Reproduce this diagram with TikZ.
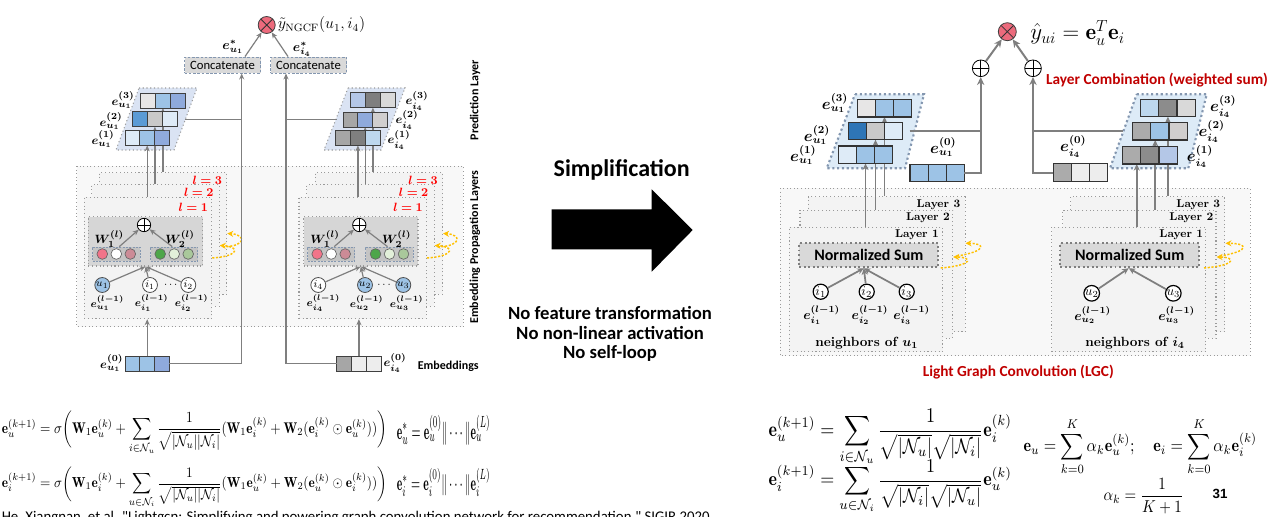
\documentclass[tikz,border=0pt]{standalone}
\usepackage{amsmath,amssymb,bm}
\usepackage{fontspec}
\newfontfamily\carl{Carlito}
\newfontfamily\arl{Liberation Sans}
\usetikzlibrary{arrows.meta,calc}
\pgfdeclarelayer{back}
\pgfdeclarelayer{front}
\pgfsetlayers{back,main,front}

\definecolor{gline}{HTML}{7F7F7F}
\definecolor{xpink}{HTML}{EC6A7C}
\definecolor{cBlueL}{HTML}{9DC3E6}
\definecolor{cBlueM}{HTML}{8FAADC}
\definecolor{cBlueV}{HTML}{DEEBF7}
\definecolor{cBlueD}{HTML}{2E75B6}
\definecolor{cBlueS}{HTML}{5B9BD5}
\definecolor{cLav}{HTML}{B4C7E7}
\definecolor{cBlueP}{HTML}{BDD7EE}
\definecolor{cGrayV}{HTML}{EDEDED}
\definecolor{cGrayE}{HTML}{E7E6E6}
\definecolor{cGrayL}{HTML}{D9D9D9}
\definecolor{cGrayW}{HTML}{D0CECE}
\definecolor{cGrayM}{HTML}{C9C9C9}
\definecolor{cGray}{HTML}{A6A6A6}
\definecolor{cGrayA}{HTML}{ABABAB}
\definecolor{cGrayK}{HTML}{8C8C8C}
\definecolor{cGrayD}{HTML}{7F7F7F}
\definecolor{paraFillL}{HTML}{DAE3F3}
\definecolor{paraFillR}{HTML}{DDEBF7}
\definecolor{paraLine}{HTML}{8497B0}
\definecolor{aggFill}{HTML}{D6D6D6}
\definecolor{grpFill}{HTML}{C4C4C4}
\definecolor{layFill}{HTML}{F3F3F3}
\definecolor{outFill}{HTML}{F8F8F8}
\definecolor{dotLine}{HTML}{9A9A9A}
\definecolor{yel}{HTML}{FFC000}
\definecolor{lred}{HTML}{FF0000}
\definecolor{dred}{HTML}{C00000}
\definecolor{cPink}{HTML}{F27489}
\definecolor{cRose}{HTML}{CC8B96}
\definecolor{cGreen}{HTML}{4EA64A}
\definecolor{cGreenL}{HTML}{E2F0D9}
\definecolor{cSage}{HTML}{A9C89B}

\tikzset{
  ln/.style={draw=gline, line width=0.9pt},
  conn/.style={ln, -{Stealth[length=4.5pt,width=3.8pt]}},
  lnB/.style={draw=gline, line width=1.5pt},
  connB/.style={lnB, -{Stealth[length=6pt,width=5.5pt]}},
  connR/.style={draw=gline, line width=1.3pt, -{Stealth[length=5pt,width=4.6pt]}},
  cellS/.style={draw=black!75, line width=0.6pt, minimum width=11.1pt, minimum height=11.2pt, inner sep=0pt, outer sep=0pt},
  cellL/.style={draw=black!80, line width=0.9pt, minimum width=13.6pt, minimum height=13pt, inner sep=0pt, outer sep=0pt},
  otimesnode/.style={circle, draw=black!75, line width=0.6pt, fill=xpink, minimum size=#1, inner sep=0pt,
    path picture={\draw[black!80, line width=0.6pt]
      (path picture bounding box.north west) -- (path picture bounding box.south east)
      (path picture bounding box.north east) -- (path picture bounding box.south west);}},
  oplusnode/.style={circle, draw=black, line width=0.6pt, fill=white, minimum size=#1, inner sep=0pt,
    path picture={\draw[black, line width=0.6pt]
      (path picture bounding box.north) -- (path picture bounding box.south)
      (path picture bounding box.east) -- (path picture bounding box.west);}},
  frame/.style={draw=dotLine, dotted, line width=0.7pt, fill=outFill},
  paraL/.style={draw=dotLine, dotted, line width=0.8pt, fill=paraFillL},
  paraR/.style={draw=paraLine, dotted, line width=1.6pt, fill=paraFillR},
  lay/.style={draw=dotLine, dotted, line width=0.8pt, fill=layFill, inner sep=0pt, minimum width=95.6pt, minimum height=91pt},
  layR/.style={draw=dotLine, dotted, line width=0.8pt, fill=layFill, inner sep=0pt},
  agg/.style={draw=dotLine, dotted, line width=0.8pt, fill=aggFill, inner sep=0pt, minimum width=85.8pt, minimum height=37pt},
  grp/.style={draw=paraLine, dash pattern=on 1.5pt off 1pt, line width=0.6pt, fill=grpFill, inner sep=0pt, minimum width=35.5pt, minimum height=10.5pt},
  dotc/.style={circle, draw=black!60, line width=0.5pt, minimum size=8pt, inner sep=0pt},
  nd/.style={circle, draw=black!70, line width=0.6pt, fill=white, minimum size=11.2pt, inner sep=0pt, font=\fontsize{8.5}{9}\selectfont},
  ndR/.style={circle, draw=black, line width=0.9pt, fill=white, minimum size=11pt, inner sep=0pt, font=\fontsize{10}{11}\selectfont},
  cat/.style={draw=paraLine, dash pattern=on 2pt off 1.2pt, line width=0.7pt, fill=cGrayL, minimum width=57pt, minimum height=12pt, inner sep=0pt, font=\carl\fontsize{9.5}{11}\selectfont},
  ns/.style={draw=gline, dotted, line width=1.4pt, fill=cGrayL, inner sep=0pt, minimum width=104.25pt, minimum height=18pt, font=\carl\bfseries\fontsize{12}{14}\selectfont},
  lbl/.style={text=lred, inner sep=0pt, font=\fontsize{9.5}{11}\selectfont},
  laylab/.style={inner sep=0pt, font=\bfseries\fontsize{8.5}{10}\selectfont},
  nbr/.style={inner sep=0pt, font=\bfseries\fontsize{10}{12}\selectfont},
  side/.style={inner sep=0pt, font=\carl\bfseries\fontsize{9}{11}\selectfont},
  m8/.style={inner sep=0pt, font=\fontsize{8}{9}\selectfont},
  m95/.style={inner sep=0pt, font=\fontsize{9.5}{11}\selectfont},
  m10/.style={inner sep=0pt, font=\fontsize{10}{12}\selectfont},
  m12/.style={inner sep=0pt, font=\fontsize{12}{14}\selectfont},
  yarr/.style={draw=yel, line width=1.1pt, dash pattern=on 1.6pt off 1.2pt, -{Stealth[length=4.5pt,width=4.5pt]}},
  eqn/.style={inner sep=0pt, anchor=west},
}

% a row of three embedding cells: style, name, left x, centre y, three fills
\newcommand\cellrow[7]{%
  \node[#1,fill=#5,anchor=west] (#2a) at (#3,#4) {};
  \node[#1,fill=#6,anchor=west] (#2b) at (#2a.east) {};
  \node[#1,fill=#7,anchor=west] (#2c) at (#2b.east) {};}

\begin{document}
\begin{tikzpicture}[x=0.75pt,y=-0.75pt]
\useasboundingbox (0,0) rectangle (1285,517);
\clip (0,0) rectangle (1285,517);

% ---------------- background frames and layer stacks ----------------
\begin{pgfonlayer}{back}
  \draw[frame] (76.7,166) rectangle (463.3,326.7);
  \draw[frame] (780,188.3) rectangle (1250,355.7);
  \draw[paraL] (139,88) -- (197,88) -- (174,150) -- (116,150) -- cycle;
  \draw[paraL] (348,88) -- (405,88) -- (381,150) -- (324,150) -- cycle;
  \draw[paraR] (855,94.3) -- (924,94.3) -- (905,168.3) -- (826.7,168.3) -- cycle;
  \draw[paraR] (1136.7,94.3) -- (1206.7,94.3) -- (1188.3,168.3) -- (1110,168.3) -- cycle;
\end{pgfonlayer}

\begin{pgfonlayer}{front}
  \cellrow{cellS}{Lr3}{140.7}{100.5}{cGrayE}{cBlueL}{cBlueM}
  \cellrow{cellS}{Lr2}{132.7}{119.2}{cBlueS}{cGrayM}{cBlueV}
  \cellrow{cellS}{Lr1}{125}{137.9}{cBlueV}{cBlueL}{cBlueM}
  \cellrow{cellS}{Rr3}{350.7}{100.2}{cLav}{cGrayD}{cGrayL}
  \cellrow{cellS}{Rr2}{343}{119.5}{cGray}{cBlueM}{cGrayW}
  \cellrow{cellS}{Rr1}{335.7}{137.9}{cGray}{cGrayD}{cBlueP}
  \cellrow{cellL}{Ar3}{857.3}{108.3}{cGrayE}{cBlueL}{cBlueL}
  \cellrow{cellL}{Ar2}{848.3}{131}{cBlueD}{cGrayM}{cBlueV}
  \cellrow{cellL}{Ar1}{838.3}{154.7}{cBlueV}{cBlueL}{cBlueL}
  \cellrow{cellL}{Br3}{1140.7}{108}{cBlueP}{cGrayK}{cGrayL}
  \cellrow{cellL}{Br2}{1132.7}{131.3}{cGrayA}{cBlueL}{cGrayW}
  \cellrow{cellL}{Br1}{1122.7}{155.3}{cGrayA}{cGrayK}{cLav}
\end{pgfonlayer}

% ======================= NGCF =======================
% prediction
\node[otimesnode=12.75pt] (Lx) at (266.7,25) {};
\node[anchor=west, inner sep=0pt, font=\fontsize{12}{14}\selectfont] (Lyt) at (277.5,25) {$\tilde{y}_{\mathrm{NGCF}}(u_1, i_4)$};
\node[cat] (Cat1) at (222.5,65) {Concatenate};
\node[cat] (Cat2) at (308.5,65) {Concatenate};
\coordinate (cat1in) at ($(Cat1.south)+(19.2,0)$);
\coordinate (cat2in) at ($(Cat2.south)+(-22.5,0)$);
\draw[conn] ($(Cat1.north)+(22.5,0)$) -- (Lx);
\draw[conn] ($(Cat2.north)+(-20.5,0)$) -- (Lx);
\node[m10] (Les) at (233,47) {$\bm{e^{*}_{u_1}}$};
\node[m10] (Ris) at (302,49) {$\bm{e^{*}_{i_4}}$};

% stack labels
\node[m95] (Lr3t) at (123,100) {$\bm{e^{(3)}_{u_1}}$};
\node[m95] (Lr2t) at (111,121) {$\bm{e^{(2)}_{u_1}}$};
\node[m95] (Lr1t) at (103,139) {$\bm{e^{(1)}_{u_1}}$};
\node[m95] (Rr3t) at (417,101) {$\bm{e^{(3)}_{i_4}}$};
\node[m95] (Rr2t) at (407,120) {$\bm{e^{(2)}_{i_4}}$};
\node[m95] (Rr1t) at (399,140) {$\bm{e^{(1)}_{i_4}}$};

% propagation layers, user side
\node[lay] (Ll3) at (163,233.5) {};
\node[lay] (Ll2) at (155.5,245.5) {};
\node[lay] (Ll1) at (148,258) {};
\node[lbl] (Ll3t) at ($(Ll3.north east)+(-20,8)$) {$\bm{l=3}$};
\node[lbl] (Ll2t) at ($(Ll2.north east)+(-21,8)$) {$\bm{l=2}$};
\node[lbl] (Ll1t) at ($(Ll1.north east)+(-19,10.5)$) {$\bm{l=1}$};
\node[agg] (Lagg) at (145.5,241.3) {};
\node[oplusnode=10pt] (Lplus) at (144,225) {};
\node[grp] (LgA) at (116.3,254) {};
\node[grp] (LgB) at (174.2,254) {};
\node[dotc, fill=cPink] (LgA1) at ($(LgA)+(-14,0)$) {};
\node[dotc, fill=white] (LgA2) at (LgA) {};
\node[dotc, fill=cRose] (LgA3) at ($(LgA)+(14,0)$) {};
\node[dotc, fill=cGreen] (LgB1) at ($(LgB)+(-14,0)$) {};
\node[dotc, fill=cGreenL] (LgB2) at (LgB) {};
\node[dotc, fill=cSage] (LgB3) at ($(LgB)+(14,0)$) {};
\draw[conn] ($(LgA.north)+(3,0)$) -- (Lplus);
\draw[conn] ($(LgB.north)+(-2,0)$) -- (Lplus);
\node[m95] (LW1) at (109.3,239) {$\bm{W^{(l)}_1}$};
\node[m95] (LW2) at (180,239) {$\bm{W^{(l)}_2}$};
\node[nd, fill=cBlueL] (Lu1) at (102.3,285) {$u_1$};
\node[nd] (Li1) at (150,285) {$i_1$};
\node[m8] (Ldots) at (171.7,285) {$\cdots$};
\node[nd] (Li2) at (188.3,285) {$i_2$};
\draw[conn] (Lu1) -- (Lagg.south);
\draw[conn] (Li1) -- (Lagg.south);
\draw[conn] (Li2) -- (Lagg.south);
\node[m8] (Leu1) at (107.3,303.3) {$\bm{e^{(l-1)}_{u_1}}$};
\node[m8] (Lei1) at (151.7,303.3) {$\bm{e^{(l-1)}_{i_1}}$};
\node[m8] (Lei2) at (191.7,303.3) {$\bm{e^{(l-1)}_{i_2}}$};
\draw[yarr] (Ll1.east) .. controls +(28,-2) and +(20,1) .. (Ll2.east);
\draw[yarr] ($(Ll2.east)+(3,1.5)$) .. controls +(25,-1) and +(18,1) .. (Ll3.east);

% propagation layers, item side
\node[lay] (Rl3) at (378.8,233.5) {};
\node[lay] (Rl2) at (370.4,245.5) {};
\node[lay] (Rl1) at (362.7,258) {};
\node[lbl] (Rl3t) at ($(Rl3.north east)+(-20,8)$) {$\bm{l=3}$};
\node[lbl] (Rl2t) at ($(Rl2.north east)+(-21,8)$) {$\bm{l=2}$};
\node[lbl] (Rl1t) at ($(Rl1.north east)+(-19,10.5)$) {$\bm{l=1}$};
\node[agg] (Ragg) at (360.8,241.3) {};
\node[oplusnode=10pt] (Rplus) at (359.3,225) {};
\node[grp] (RgA) at (331.2,254) {};
\node[grp] (RgB) at (389.5,254) {};
\node[dotc, fill=cPink] (RgA1) at ($(RgA)+(-14,0)$) {};
\node[dotc, fill=white] (RgA2) at (RgA) {};
\node[dotc, fill=cRose] (RgA3) at ($(RgA)+(14,0)$) {};
\node[dotc, fill=cGreen] (RgB1) at ($(RgB)+(-14,0)$) {};
\node[dotc, fill=cGreenL] (RgB2) at (RgB) {};
\node[dotc, fill=cSage] (RgB3) at ($(RgB)+(14,0)$) {};
\draw[conn] ($(RgA.north)+(3,0)$) -- (Rplus);
\draw[conn] ($(RgB.north)+(-2,0)$) -- (Rplus);
\node[m95] (RW1) at (325,239) {$\bm{W^{(l)}_1}$};
\node[m95] (RW2) at (396.7,239) {$\bm{W^{(l)}_2}$};
\node[nd] (Ri4) at (318.3,285) {$i_4$};
\node[nd, fill=cBlueL] (Ru2) at (365,285) {$u_2$};
\node[m8] (Rdots) at (385,285) {$\cdots$};
\node[nd, fill=cBlueL] (Ru3) at (403.3,285) {$u_3$};
\draw[conn] (Ri4) -- (Ragg.south);
\draw[conn] (Ru2) -- (Ragg.south);
\draw[conn] (Ru3) -- (Ragg.south);
\node[m8] (Rei4) at (323.3,303.3) {$\bm{e^{(l-1)}_{i_4}}$};
\node[m8] (Reu2) at (366.7,303.3) {$\bm{e^{(l-1)}_{u_2}}$};
\node[m8] (Reu3) at (406.7,303.3) {$\bm{e^{(l-1)}_{u_3}}$};
\draw[yarr] (Rl1.east) .. controls +(28,-2) and +(20,1) .. (Rl2.east);
\draw[yarr] ($(Rl2.east)+(3,1.5)$) .. controls +(25,-1) and +(18,1) .. (Rl3.east);

% layer outputs into the stacks
\draw[conn] (Lr1b.south |- Ll1.north) -- (Lr1b.south);
\draw[conn] (Lr2b.south |- Ll2.north) -- (Lr2b.south);
\draw[conn] (Lr3b.south |- Ll3.north) -- (Lr3b.south);
\draw[conn] (Rr1b.south |- Rl1.north) -- (Rr1b.south);
\draw[conn] (Rr2b.south |- Rl2.north) -- (Rr2b.south);
\draw[conn] (Rr3b.south |- Rl3.north) -- (Rr3b.south);

% initial embeddings
\cellrow{cellS}{Le}{125}{363.8}{cBlueL}{cBlueL}{cBlueM}
\cellrow{cellS}{Re}{336.7}{363.8}{cGray}{cGrayV}{cGrayV}
\node[m95] (Lelab) at (111.7,363) {$\bm{e^{(0)}_{u_1}}$};
\node[m95] (Relab) at (395,363) {$\bm{e^{(0)}_{i_4}}$};
\draw[conn] (Leb.north) -- (Leb.north |- Ll1.south);
\draw[conn] (Reb.north) -- (Reb.north |- Rl1.south);
\draw[conn] (Lec.east) -| (cat1in);
\draw[conn] (Rea.west) -| (cat2in);
\draw[ln] ($(Lr2c.east)+(8,0)$) -- (Lr2c.east -| cat1in);
\draw[ln] ($(Rr2a.west)+(-6,0)$) -- (Rr2a.west -| cat2in);

% side captions
\node[side, rotate=90] (sideP) at (475,100) {Prediction Layer};
\node[side, rotate=90] (sideE) at (475,247) {Embedding Propagation Layers};
\node[side] (sideM) at (448.3,366.7) {Embeddings};

% ======================= middle =======================
\node[inner sep=0pt, font=\carl\bfseries\fontsize{18}{21}\selectfont] (simp) at (621.7,170) {Simplification};
\fill[black] (551.7,209.3) -- (651.7,209.3) -- (651.7,189.3) -- (692.7,230) -- (651.7,271.7) -- (651.7,249.3) -- (551.7,249.3) -- cycle;
\node[inner sep=0pt, font=\carl\bfseries\fontsize{14}{16}\selectfont] (nf1) at (610,313.3) {No feature transformation};
\node[inner sep=0pt, font=\carl\bfseries\fontsize{14}{16}\selectfont] (nf2) at (610,333.3) {No non-linear activation};
\node[inner sep=0pt, font=\carl\bfseries\fontsize{14}{16}\selectfont] (nf3) at (610,353.3) {No self-loop};

% ======================= LightGCN =======================
\node[otimesnode=13.5pt] (Gx) at (1007.3,31.7) {};
\node[anchor=west, inner sep=0pt, font=\fontsize{17}{20}\selectfont] (Gyt) at (1030,33) {$\hat{y}_{ui} = \mathbf{e}_u^{T}\mathbf{e}_i$};
\node[oplusnode=12.5pt] (Ap) at (980.7,68.3) {};
\node[oplusnode=12.5pt] (Bp) at (1033,68.3) {};
\draw[connB] (Ap) -- (Gx);
\draw[connB] (Bp) -- (Gx);
\node[inner sep=0pt, text=dred, font=\carl\bfseries\fontsize{11.5}{13}\selectfont] (lcomb) at (1157,80) {Layer Combination (weighted sum)};

\node[m12] (Ar3t) at (835,103.3) {$\bm{e^{(3)}_{u_1}}$};
\node[m12] (Ar2t) at (817,135) {$\bm{e^{(2)}_{u_1}}$};
\node[m12] (Ar1t) at (803.3,155) {$\bm{e^{(1)}_{u_1}}$};
\node[m12] (Br3t) at (1223.3,106.7) {$\bm{e^{(3)}_{i_4}}$};
\node[m12] (Br2t) at (1211.7,131.7) {$\bm{e^{(2)}_{i_4}}$};
\node[m12] (Br1t) at (1200,156.7) {$\bm{e^{(1)}_{i_4}}$};

% user side
\node[layR, minimum width=117.5pt, minimum height=101.25pt] (AL3) at (886.7,264.2) {};
\node[layR, minimum width=114.5pt, minimum height=96.2pt] (AL2) at (876.3,274.2) {};
\node[layR, minimum width=115pt, minimum height=93.3pt] (AL1) at (866,289.5) {};
\node[laylab, anchor=north east] (AL3t) at ($(AL3.north east)+(-5,3)$) {Layer 3};
\node[laylab, anchor=north east] (AL2t) at ($(AL2.north east)+(-3,3)$) {Layer 2};
\node[laylab, anchor=north east] (AL1t) at ($(AL1.north east)+(-4,3)$) {Layer 1};
\node[ns] (ANS) at (868.8,255.3) {Normalized Sum};
\node[ndR] (Ai1) at (820.7,291.7) {$i_1$};
\node[ndR] (Ai2) at (866.7,291.7) {$i_2$};
\node[ndR] (Ai3) at (906.7,291.7) {$i_3$};
\draw[connR] (Ai1) -- ($(ANS.south)+(-5,0)$);
\draw[connR] (Ai2) -- ($(ANS.south)+(-5,0)$);
\draw[connR] (Ai3) -- ($(ANS.south)+(-5,0)$);
\node[m10] (Aei1) at (821.7,315) {$\bm{e^{(l-1)}_{i_1}}$};
\node[m10] (Aei2) at (870,315) {$\bm{e^{(l-1)}_{i_2}}$};
\node[m10] (Aei3) at (911.7,315) {$\bm{e^{(l-1)}_{i_3}}$};
\node[nbr] (Anb) at (866.7,343.3) {neighbors of $\bm{u_1}$};
\draw[yarr] (940.7,268) .. controls (975,265) and (972,257) .. (AL2.east |- 0,257);
\draw[yarr] (957,256) .. controls (988,251) and (985,243.3) .. (AL3.east |- 0,243.3);

% item side
\node[layR, minimum width=115.7pt, minimum height=101.25pt] (BL3) at (1147.8,264.2) {};
\node[layR, minimum width=115pt, minimum height=96.2pt] (BL2) at (1139.3,274.2) {};
\node[layR, minimum width=115.7pt, minimum height=93.3pt] (BL1) at (1128.8,289.5) {};
\node[laylab, anchor=north east] (BL3t) at ($(BL3.north east)+(-5,3)$) {Layer 3};
\node[laylab, anchor=north east] (BL2t) at ($(BL2.north east)+(-3,3)$) {Layer 2};
\node[laylab, anchor=north east] (BL1t) at ($(BL1.north east)+(-3,3)$) {Layer 1};
\node[ns] (BNS) at (1129.7,255.3) {Normalized Sum};
\node[ndR] (Bu2) at (1091.7,293.3) {$u_2$};
\node[ndR] (Bu3) at (1173.3,293.3) {$u_3$};
\draw[connR] (Bu2) -- ($(BNS.south)+(-1,0)$);
\draw[connR] (Bu3) -- ($(BNS.south)+(-1,0)$);
\node[m10] (Beu2) at (1092.7,315) {$\bm{e^{(l-1)}_{u_2}}$};
\node[m10] (Beu3) at (1176.7,315) {$\bm{e^{(l-1)}_{u_3}}$};
\node[nbr] (Bnb) at (1135,343.3) {neighbors of $\bm{i_4}$};
\draw[yarr] (1204,268) .. controls (1238,265) and (1235,257) .. (BL2.east |- 0,257);
\draw[yarr] (1220,256) .. controls (1251,251) and (1248,243.3) .. (BL3.east |- 0,243.3);

\node[inner sep=0pt, text=dred, font=\carl\bfseries\fontsize{11.5}{13}\selectfont] (lgc) at (1018.3,371.7) {Light Graph Convolution (LGC)};

% layer outputs into the stacks
\draw[connR] (Ar1b.south |- AL1.north) -- (Ar1b.south);
\draw[connR] (Ar2b.south |- AL2.north) -- (Ar2b.south);
\draw[connR] (Ar3b.south |- AL3.north) -- (Ar3b.south);
\draw[connR] ($(Br1a.south |- BL1.north)+(5,0)$) -- ($(Br1a.south)+(5,0)$);
\draw[connR] ($(Br2b.south |- BL2.north)+(-4.7,0)$) -- ($(Br2b.south)+(-4.7,0)$);
\draw[connR] (Br3b.south |- BL3.north) -- (Br3b.south);

% initial embeddings and combination
\cellrow{cellL}{Ae}{910}{172.8}{cBlueL}{cBlueL}{cBlueL}
\cellrow{cellL}{Be}{1053.3}{172.5}{cGrayA}{cGrayV}{cGrayV}
\node[m12] (Aelab) at (943.3,146.7) {$\bm{e^{(0)}_{u_1}}$};
\node[m12] (Belab) at (1073.3,146.7) {$\bm{e^{(0)}_{i_4}}$};
\draw[connB] (Aec.east) -| (Ap);
\draw[connB] (Bea.west) -| (Bp);
\draw[lnB] ($(Ar2c.east)+(7,0)$) -- (Ar2c.east -| Ap);
\draw[lnB] ($(Br2a.west)+(-10,0)$) -- (Br2a.west -| Bp);

% ======================= equations =======================
\node[eqn] (EqL1) at (1.7,433) {\resizebox*{288.75pt}{33pt}{$\displaystyle
  \mathbf{e}_u^{(k+1)} = \sigma\bigg(\mathbf{W}_1\mathbf{e}_u^{(k)} + \sum_{i\in\mathcal{N}_u}\frac{1}{\sqrt{|\mathcal{N}_u||\mathcal{N}_i|}}(\mathbf{W}_1\mathbf{e}_i^{(k)} + \mathbf{W}_2(\mathbf{e}_i^{(k)}\odot\mathbf{e}_u^{(k)}))\bigg)$}};
\node[eqn] (EqL2) at (1.7,487.3) {\resizebox*{288.75pt}{31pt}{$\displaystyle
  \mathbf{e}_i^{(k+1)} = \sigma\bigg(\mathbf{W}_1\mathbf{e}_i^{(k)} + \sum_{u\in\mathcal{N}_i}\frac{1}{\sqrt{|\mathcal{N}_u||\mathcal{N}_i|}}(\mathbf{W}_1\mathbf{e}_u^{(k)} + \mathbf{W}_2(\mathbf{e}_u^{(k)}\odot\mathbf{e}_i^{(k)}))\bigg)$}};
\node[eqn] (EqL3) at (396.7,430) {\resizebox*{70pt}{22.5pt}{$\mathbf{e}_u^{*} = \mathbf{e}_u^{(0)}\|\cdots\|\mathbf{e}_u^{(L)}$}};
\node[eqn] (EqL4) at (396.7,482.5) {\resizebox*{70pt}{21pt}{$\mathbf{e}_i^{*} = \mathbf{e}_i^{(0)}\|\cdots\|\mathbf{e}_i^{(L)}$}};

\node[eqn] (EqR1) at (768.3,437) {\resizebox*{182.5pt}{42.75pt}{$\displaystyle
  \mathbf{e}_u^{(k+1)} = \sum_{i\in\mathcal{N}_u}\frac{1}{\sqrt{|\mathcal{N}_u|}\sqrt{|\mathcal{N}_i|}}\mathbf{e}_i^{(k)}$}};
\node[eqn] (EqR2) at (768.3,486.7) {\resizebox*{182.5pt}{40pt}{$\displaystyle
  \mathbf{e}_i^{(k+1)} = \sum_{u\in\mathcal{N}_i}\frac{1}{\sqrt{|\mathcal{N}_i|}\sqrt{|\mathcal{N}_u|}}\mathbf{e}_u^{(k)}$}};
\node[eqn] (EqR3) at (1023.3,446.7) {\resizebox*{175pt}{42.7pt}{$\displaystyle
  \mathbf{e}_u = \sum_{k=0}^{K}\alpha_k\mathbf{e}_u^{(k)};\quad \mathbf{e}_i = \sum_{k=0}^{K}\alpha_k\mathbf{e}_i^{(k)}$}};
\node[eqn] (EqR4) at (1103.3,496) {\resizebox*{60pt}{27pt}{$\displaystyle \alpha_k = \frac{1}{K+1}$}};

\node[inner sep=0pt, font=\arl\bfseries\fontsize{10}{12}\selectfont] (pg) at (1220,494) {31};
\node[anchor=north west, inner sep=0pt, font=\carl\fontsize{11.1}{13}\selectfont] (cite) at (1.5,510.5)
  {He, Xiangnan, et al. "Lightgcn: Simplifying and powering graph convolution network for recommendation." SIGIR 2020.};
\end{tikzpicture}
\end{document}
